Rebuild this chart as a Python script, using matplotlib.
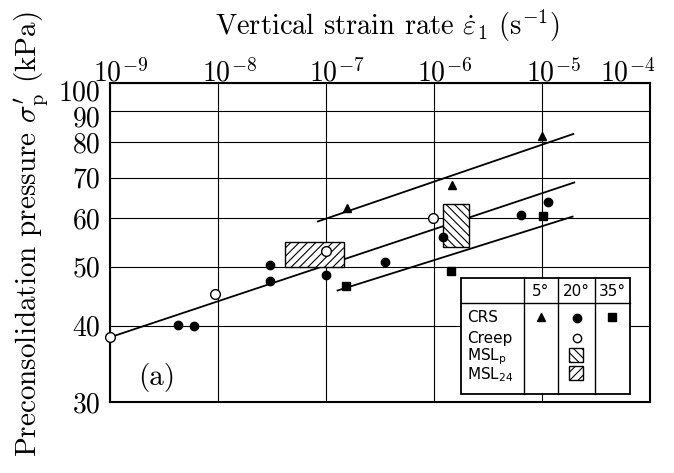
import matplotlib.pyplot as plt
from matplotlib.patches import Rectangle
import matplotlib.transforms as mtransforms

plt.rcParams['font.family'] = 'cmr10'
plt.rcParams['mathtext.fontset'] = 'cm'
plt.rcParams['axes.formatter.use_mathtext'] = True
plt.rcParams['hatch.linewidth'] = 0.8

# ---- data ----
x_ticks = [1e-9, 1e-8, 1e-7, 1e-6, 1e-5, 1e-4]
x_tick_labels = [r'$10^{-9}$', r'$10^{-8}$', r'$10^{-7}$', r'$10^{-6}$', r'$10^{-5}$', r'$10^{-4}$']
y_ticks = [30, 40, 50, 60, 70, 80, 90, 100]
y_tick_labels = ['30', '40', '50', '60', '70', '80', '90', '100']

# CRS tests at 5, 20, 35 deg
crs5_x = [1.55e-7, 1.46e-6, 1.0e-5]
crs5_y = [62.3, 68.1, 81.9]
crs20_x = [4.3e-9, 6.0e-9, 3.0e-8, 3.0e-8, 1.0e-7, 3.5e-7, 1.21e-6, 6.35e-6, 1.14e-5]
crs20_y = [40.1, 40.0, 50.4, 47.4, 48.5, 50.8, 55.9, 60.8, 63.9]
crs35_x = [1.54e-7, 1.45e-6, 1.03e-5]
crs35_y = [46.4, 49.2, 60.6]

# creep tests at 20 deg
creep20_x = [1.0e-9, 9.3e-9, 1.0e-7, 9.7e-7]
creep20_y = [38.3, 45.1, 53.1, 60.0]

# MSL boxes (x range, y range)
msl24_x = [4.14e-8, 1.46e-7]
msl24_y = [49.9, 54.9]
mslp_x = [1.22e-6, 2.11e-6]
mslp_y = [53.9, 63.4]

# fitted lines
line5_x = [8.4e-8, 1.95e-5]
line5_y = [59.3, 82.5]
line20_x = [1.0e-9, 1.99e-5]
line20_y = [38.3, 68.7]
line35_x = [1.28e-7, 1.92e-5]
line35_y = [45.7, 60.4]

W, H = 674, 473
fig = plt.figure(figsize=(W / 100, H / 100), dpi=100)
ax = fig.add_axes([110 / W, 71 / H, 540 / W, 319 / H])
ax.set_xscale('log')
ax.set_yscale('log')
ax.set_xlim(1e-9, 1e-4)
ax.set_ylim(30, 100)

ax.set_xticks(x_ticks)
ax.set_xticklabels(x_tick_labels)
ax.set_yticks(y_ticks)
ax.set_yticklabels(y_tick_labels)
ax.minorticks_off()
ax.xaxis.tick_top()
ax.tick_params(axis='x', length=0, labelsize=20, pad=-3)
ax.tick_params(axis='y', length=0, labelsize=20, pad=7)
# shift x labels so the "10" sits on the grid line; last one pulled inside
for i, lbl in enumerate(ax.get_xticklabels()):
    dx = -22 if i == len(x_ticks) - 1 else 11
    offset = mtransforms.ScaledTranslation(dx / 100, 0, fig.dpi_scale_trans)
    lbl.set_transform(lbl.get_transform() + offset)
# "100" sits a little below the top edge, "90" a little lower than its line
ylbls = ax.get_yticklabels()
for lbl, dy in [(ylbls[-1], -7), (ylbls[-2], -5)]:
    lbl.set_transform(lbl.get_transform() +
                      mtransforms.ScaledTranslation(0, dy / 100, fig.dpi_scale_trans))

ax.grid(True, color='black', lw=0.8)
for s in ax.spines.values():
    s.set_linewidth(1.5)

# lines
ax.plot(line5_x, line5_y, color='black', lw=1.3, zorder=2)
ax.plot(line20_x, line20_y, color='black', lw=1.3, zorder=2)
ax.plot(line35_x, line35_y, color='black', lw=1.3, zorder=2)

# MSL boxes
ax.add_patch(Rectangle((msl24_x[0], msl24_y[0]), msl24_x[1] - msl24_x[0], msl24_y[1] - msl24_y[0],
                       facecolor='white', edgecolor='black', hatch='////', lw=1.0, zorder=3))
ax.add_patch(Rectangle((mslp_x[0], mslp_y[0]), mslp_x[1] - mslp_x[0], mslp_y[1] - mslp_y[0],
                       facecolor='white', edgecolor='black', hatch='\\\\\\\\', lw=1.0, zorder=3))

# points
ax.plot(crs5_x, crs5_y, '^', color='black', ms=6, zorder=4)
ax.plot(crs20_x, crs20_y, 'o', color='black', ms=6, zorder=4)
ax.plot(crs35_x, crs35_y, 's', color='black', ms=6, zorder=4)
ax.plot(creep20_x, creep20_y, 'o', mfc='white', mec='black', mew=1.0, ms=7, zorder=5, clip_on=False)

ax.text((157 - 110) / 540, 1 - (377 - 83) / 319, '(a)', transform=ax.transAxes,
        fontsize=21, ha='center', va='center')

fig.text(387 / W, 1 - 26 / H, r'Vertical strain rate $\dot{\varepsilon}_1$ $(\mathrm{s}^{-1})$',
         fontsize=20.5, ha='center', va='center')
fig.text(32 / W, 1 - 234 / H, r"Preconsolidation pressure $\sigma_{\mathrm{p}}^{\prime}$ (kPa)",
         fontsize=21, ha='center', va='center', rotation=90)


# ---- legend table ----
def fxy(px, py):
    return px / W, 1 - py / H


tf = fig.transFigure
x0, y0 = fxy(461, 394)
x1, y1 = fxy(630, 278)
fig.add_artist(Rectangle((x0, y0), x1 - x0, y1 - y0, transform=tf, facecolor='white',
                         edgecolor='black', lw=1.3, zorder=10))
for cx in [524, 558, 595]:
    a, b = fxy(cx, 278)
    c, d = fxy(cx, 394)
    fig.add_artist(plt.Line2D([a, c], [b, d], transform=tf, color='black', lw=1.0, zorder=11))
a, b = fxy(461, 303)
c, d = fxy(630, 303)
fig.add_artist(plt.Line2D([a, c], [b, d], transform=tf, color='black', lw=1.0, zorder=11))

legend_heads = ['5°', '20°', '35°']
for hx, head in zip([541, 576.5, 612.5], legend_heads):
    fig.text(*fxy(hx, 292), head, fontsize=11, family='DejaVu Sans',
             ha='center', va='center', zorder=12)

legend_rows = ['CRS', 'Creep', r'MSL$_{\mathrm{p}}$', r'MSL$_{\mathrm{24}}$']
for ry, row in zip([318, 338, 357, 375], legend_rows):
    fig.text(*fxy(467, ry), row, fontsize=11, family='DejaVu Sans',
             math_fontfamily='dejavusans', ha='left', va='center', zorder=12)

fig.add_artist(plt.Line2D([fxy(541, 317)[0]], [fxy(541, 317)[1]], transform=tf, marker='^',
                          color='black', ms=6, zorder=12))
fig.add_artist(plt.Line2D([fxy(576.5, 318)[0]], [fxy(576.5, 318)[1]], transform=tf, marker='o',
                          color='black', ms=6, zorder=12))
fig.add_artist(plt.Line2D([fxy(612, 317)[0]], [fxy(612, 317)[1]], transform=tf, marker='s',
                          color='black', ms=6, zorder=12))
fig.add_artist(plt.Line2D([fxy(576.5, 338)[0]], [fxy(576.5, 338)[1]], transform=tf, marker='o',
                          mfc='white', mec='black', mew=1.0, ms=6, zorder=12))
for sy, htch in zip([362, 380], ['\\\\\\\\', '////']):
    sx, sy2 = fxy(569, sy)
    fig.add_artist(Rectangle((sx, sy2), 14 / W, 14 / H, transform=tf, facecolor='white',
                             edgecolor='black', hatch=htch, lw=1.0, zorder=12))

fig.savefig('out.png', dpi=100)
